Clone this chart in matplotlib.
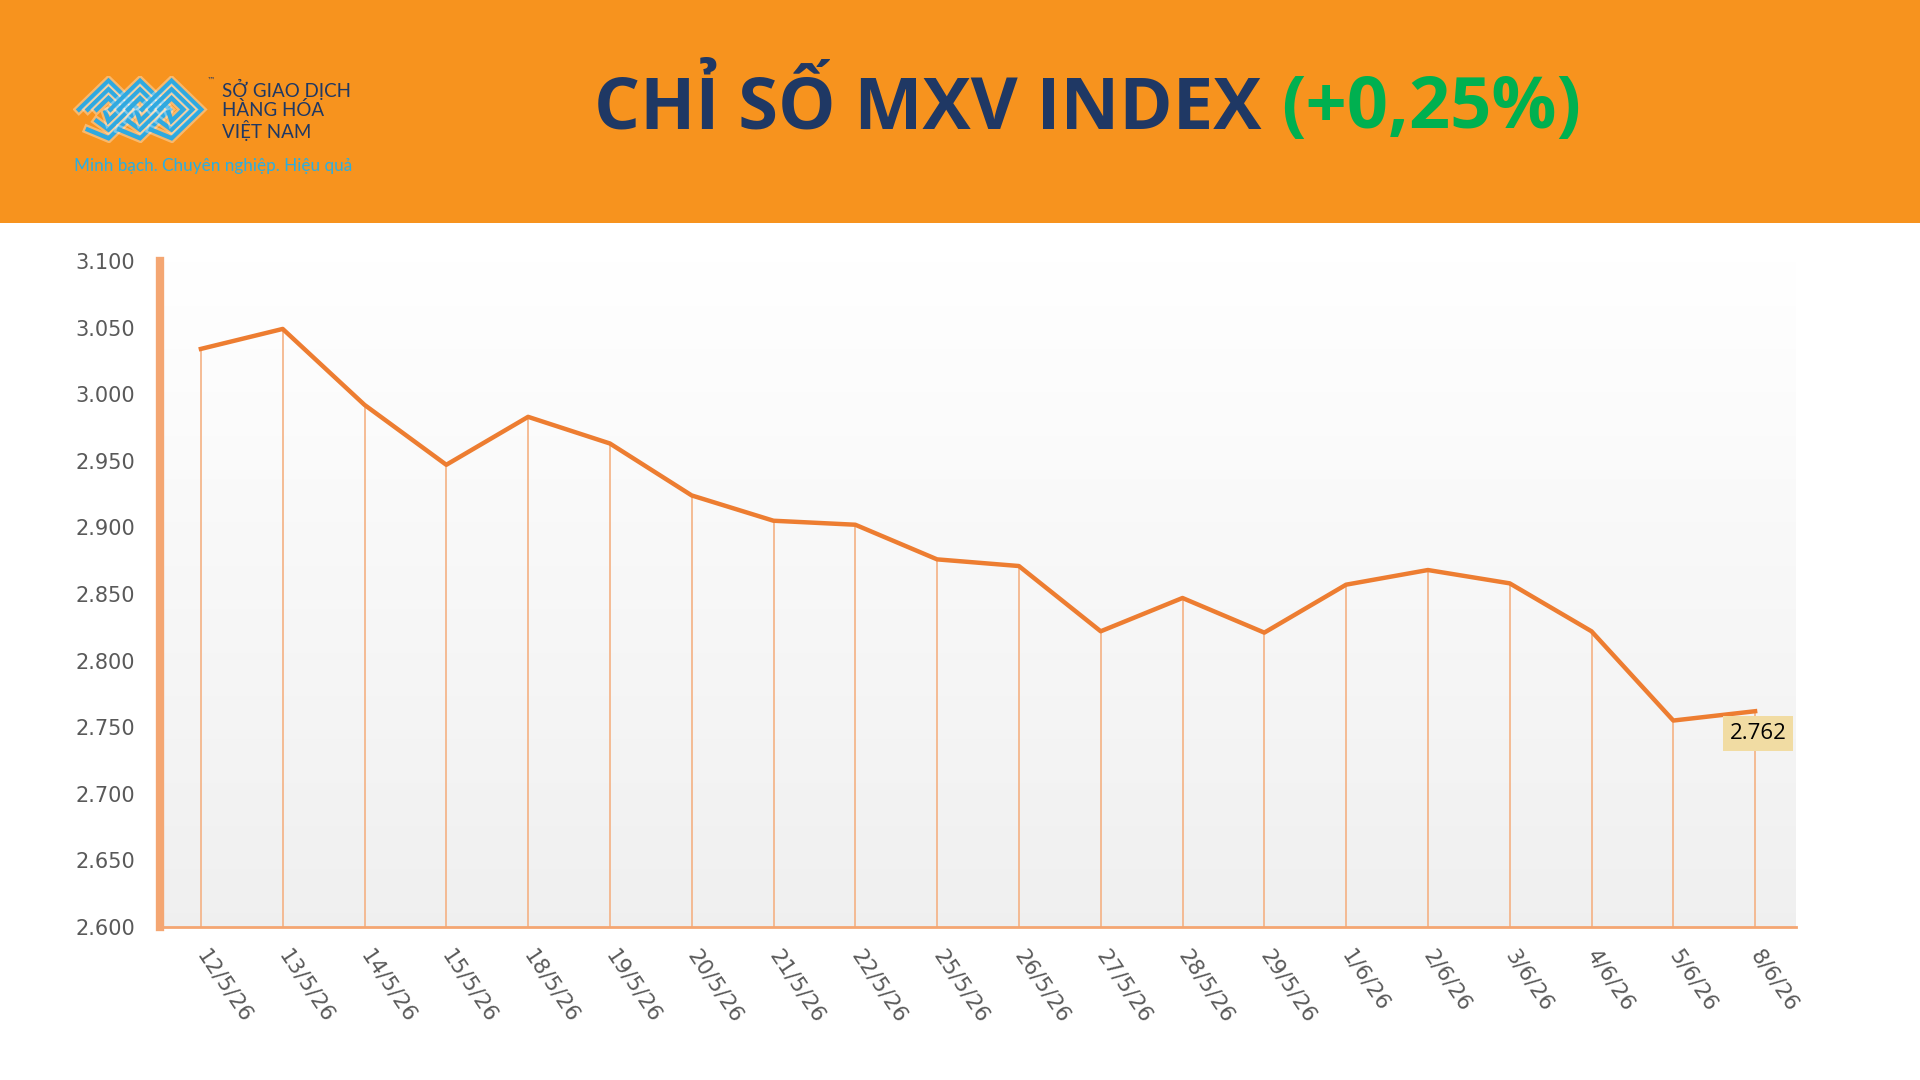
import numpy as np
import matplotlib
matplotlib.use("Agg")
import matplotlib.pyplot as plt
from matplotlib.patches import Rectangle

# data
dates = ["12/5/26", "13/5/26", "14/5/26", "15/5/26", "18/5/26", "19/5/26", "20/5/26",
         "21/5/26", "22/5/26", "25/5/26", "26/5/26", "27/5/26", "28/5/26", "29/5/26",
         "1/6/26", "2/6/26", "3/6/26", "4/6/26", "5/6/26", "8/6/26"]
index_values = [3.034, 3.049, 2.992, 2.947, 2.983, 2.963, 2.924, 2.905, 2.902, 2.876,
                2.871, 2.822, 2.847, 2.821, 2.857, 2.868, 2.858, 2.822, 2.755, 2.762]
yticks = [2.600, 2.650, 2.700, 2.750, 2.800, 2.850, 2.900, 2.950, 3.000, 3.050, 3.100]
title_main = "CHỈ SỐ MXV INDEX "
title_change = "(+0,25%)"

ORANGE = "#ED7D31"
HEADER = "#F7931E"
NAVY = "#1F3864"
GREEN = "#00B050"
TITLE_FONT = ["Liberation Sans Narrow", "Open Sans", "DejaVu Sans"]

fig = plt.figure(figsize=(19.2, 10.8), dpi=100)
fig.patch.set_facecolor("white")

# header band
fig.patches.append(Rectangle((0, 0.7935), 1, 0.2065, transform=fig.transFigure,
                             facecolor=HEADER, edgecolor="none", zorder=0))

# title
fig.text(0.667, 0.899, title_main, ha="right", va="center", fontsize=52,
         fontweight="bold", color=NAVY, family=TITLE_FONT)
fig.text(0.667, 0.899, title_change, ha="left", va="center", fontsize=52,
         fontweight="bold", color=GREEN, family=TITLE_FONT)

# logo (simplified)
lax = fig.add_axes([73 / 1920, 1 - 143 / 1080, 138 / 1920, 67 / 1080], zorder=3)
lax.set_xlim(0, 14)
lax.set_ylim(-3.5, 3.5)
lax.axis("off")
for shift in [0, 3.2, 6.4]:
    for k in range(3):
        d = 3 - k * 0.9
        cx = 3.6 + shift
        lax.plot([cx - d, cx, cx + d, cx, cx - d + 0.9],
                 [0, d, 0, -d, -d + 0.9], color="white", lw=6.5, alpha=0.35,
                 solid_joinstyle="miter")
        lax.plot([cx - d, cx, cx + d, cx, cx - d + 0.9],
                 [0, d, 0, -d, -d + 0.9], color="#2FA9E0", lw=3.2,
                 solid_joinstyle="miter")
lax.text(13.6, 3.0, "™", fontsize=6, color=NAVY, ha="left", va="center")
fig.text(222 / 1920, 0.898, "SỞ GIAO DỊCH\nHÀNG HÓA\nVIỆT NAM", ha="left", va="center",
         fontsize=13.5, color=NAVY, linespacing=1.05, family=["Lato", "DejaVu Sans"])
fig.text(74 / 1920, 1 - 166 / 1080, "Minh bạch. Chuyên nghiệp. Hiệu quả", ha="left", va="center",
         fontsize=12.3, color="#29AEE3", family=["Lato", "DejaVu Sans"])

# chart
ax = fig.add_axes([160 / 1920, 153 / 1080, (1796 - 160) / 1920, (927 - 261) / 1080])
x = np.arange(len(dates)) + 0.5
ax.set_xlim(0, len(dates))
ax.set_ylim(2.6, 3.1)

# soft gradient background
grad = np.linspace(0.94, 1.0, 256).reshape(-1, 1)
ax.imshow(np.dstack([grad, grad, grad]), extent=[0, len(dates), 2.6, 3.1],
          origin="lower", aspect="auto", zorder=0)

ax.vlines(x, 2.6, index_values, color="#F4B183", lw=1.2, zorder=1)
ax.plot(x, index_values, color=ORANGE, lw=3.2, zorder=3, solid_joinstyle="round")

ax.set_yticks(yticks)
ax.set_yticklabels([f"{v:.3f}" for v in yticks], fontsize=15, color="#595959")
ax.set_xticks(x)
ax.set_xticklabels(dates, rotation=-56, ha="left", va="center", rotation_mode="anchor",
                   fontsize=15.5, color="#595959")
ax.tick_params(axis="both", length=0)
ax.tick_params(axis="y", pad=18)
ax.tick_params(axis="x", pad=18)

for s in ["top", "right"]:
    ax.spines[s].set_visible(False)
ax.spines["left"].set_color("#F4A672")
ax.spines["left"].set_linewidth(6)
ax.spines["bottom"].set_color("#F4A672")
ax.spines["bottom"].set_linewidth(2)

# last value label
ax.annotate(f"{index_values[-1]:.3f}", (x[-1], index_values[-1]),
            xytext=(2, -16), textcoords="offset points", ha="center", va="center",
            fontsize=16, color="black", zorder=5, family=["Open Sans", "DejaVu Sans"],
            bbox=dict(boxstyle="square,pad=0.3", facecolor="#F1DCA3", edgecolor="none"))

fig.savefig("out.png", dpi=100)
